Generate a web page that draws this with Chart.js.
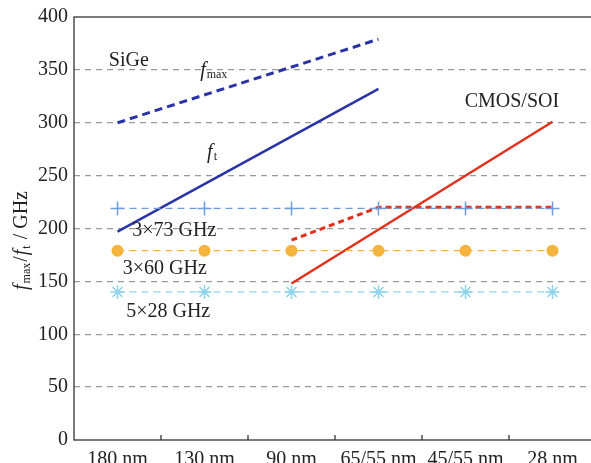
<!DOCTYPE html>
<html>
<head>
<meta charset="utf-8">
<script src="https://cdn.jsdelivr.net/npm/chart.js@4/dist/chart.umd.min.js"></script>
<style>
  html, body { margin: 0; padding: 0; background: #fff; overflow: hidden; }
  #wrap { width: 596px; height: 463px; position: relative; }
</style>
</head>
<body>
<div id="wrap"><canvas id="chart"></canvas></div>
<script>
// Process nodes on the x axis
const nodes = ['180 nm', '130 nm', '90 nm', '65/55 nm', '45/55 nm', '28 nm'];
const yTicks = [0, 50, 100, 150, 200, 250, 300, 350, 400];

// SiGe (blue) - only end points are given, the line joins them
const sigeFmax = [300, null, null, 379, null, null];
const sigeFt   = [197, null, null, 332, null, null];

// CMOS/SOI (red)
const cmosFmax = [null, null, 189, 220, 220, 220];
const cmosFt   = [null, null, 148, null, null, 301];

// band reference lines
const band73 = [219, 219, 219, 219, 219, 219];
const band60 = [179, 179, 179, 179, 179, 179];
const band28 = [140, 140, 140, 140, 140, 140];

const SERIF = '"Liberation Serif", "DejaVu Serif", serif';
const TEXT = '#222';

// free text labels (category index, value)
const labels = [
    { text: 'SiGe', x: -0.1, y: 359 },
    { text: 'CMOS/SOI', x: 3.99, y: 320 },
    { text: '3×73 GHz', x: 0.17, y: 198 },
    { text: '3×60 GHz', x: 0.06, y: 162 },
    { text: '5×28 GHz', x: 0.1, y: 121 }
];

function drawF(ctx, x, y, sub, size) {
    ctx.font = 'italic ' + size + 'px ' + SERIF;
    ctx.textAlign = 'left';
    ctx.fillText('f', x, y);
    const w = ctx.measureText('f').width;
    ctx.font = Math.round(size * 0.62) + 'px ' + SERIF;
    ctx.fillText(sub, x + w + 1, y + size * 0.22);
}

const overlay = {
    id: 'overlay',
    beforeDatasetsDraw(chart) {
        const { ctx, chartArea: a, scales } = chart;
        ctx.save();
        // box
        ctx.strokeStyle = '#333';
        ctx.lineWidth = 1.3;
        ctx.strokeRect(a.left, a.top, a.right - a.left, a.bottom - a.top);
        // small ticks between nodes, pointing up
        const xs = scales.x;
        for (let i = 0; i < nodes.length - 1; i++) {
            const px = (xs.getPixelForValue(i) + xs.getPixelForValue(i + 1)) / 2;
            ctx.beginPath();
            ctx.moveTo(px, a.bottom);
            ctx.lineTo(px, a.bottom - 5);
            ctx.stroke();
        }
        ctx.restore();
    },
    afterDraw(chart) {
        const { ctx, scales } = chart;
        const xs = scales.x, ys = scales.y;
        const cw = xs.getPixelForValue(1) - xs.getPixelForValue(0);
        ctx.save();
        ctx.fillStyle = TEXT;
        ctx.textBaseline = 'middle';
        ctx.textAlign = 'left';
        labels.forEach(l => {
            ctx.font = '20px ' + SERIF;
            ctx.fillText(l.text, xs.getPixelForValue(0) + l.x * cw, ys.getPixelForValue(l.y));
        });
        drawF(ctx, xs.getPixelForValue(0) + 0.95 * cw, ys.getPixelForValue(349), 'max', 20);
        drawF(ctx, xs.getPixelForValue(0) + 1.03 * cw, ys.getPixelForValue(272), 't', 20);

        // y axis title, rotated
        ctx.translate(22, 240);
        ctx.rotate(-Math.PI / 2);
        ctx.textBaseline = 'middle';
        const parts = [
            ['italic 20px ' + SERIF, 'f', 0],
            ['12px ' + SERIF, 'max', 5],
            ['20px ' + SERIF, '/', 0],
            ['italic 20px ' + SERIF, 'f', 0],
            ['12px ' + SERIF, 't', 5],
            ['20px ' + SERIF, ' / GHz', 0]
        ];
        let total = 0;
        parts.forEach(p => { ctx.font = p[0]; total += ctx.measureText(p[1]).width + 1; });
        let cx = -total / 2;
        parts.forEach(p => {
            ctx.font = p[0];
            ctx.fillText(p[1], cx, p[2]);
            cx += ctx.measureText(p[1]).width + 1;
        });
        ctx.restore();
    }
};

function line(data, color, width, dash, extra) {
    return Object.assign({
        data: data,
        borderColor: color,
        backgroundColor: color,
        borderWidth: width,
        borderDash: dash,
        pointRadius: 0,
        spanGaps: true,
        tension: 0
    }, extra || {});
}

new Chart(document.getElementById('chart'), {
    type: 'line',
    data: {
        labels: nodes,
        datasets: [
            line(band73, '#6f9bdc', 1.3, [7, 5], { pointStyle: 'cross', pointRadius: 7, pointBorderWidth: 1.5 }),
            line(band60, '#f5b43c', 1.3, [7, 5], { pointStyle: 'circle', pointRadius: 6, pointBorderWidth: 0 }),
            line(band28, '#8fd3ec', 1.3, [7, 5], { pointStyle: 'star', pointRadius: 7, pointBorderWidth: 1.5 }),
            line(sigeFmax, '#2b34a6', 3, [8, 5]),
            line(sigeFt, '#2b34a6', 2.5, []),
            line(cmosFmax, '#e3301d', 3, [6, 4]),
            line(cmosFt, '#e3301d', 2.5, [])
        ]
    },
    plugins: [overlay],
    options: {
        responsive: true,
        maintainAspectRatio: false,
        animation: false,
        layout: { autoPadding: false, padding: { top: 17, right: 0, left: 0, bottom: 0 } },
        plugins: { legend: { display: false }, tooltip: { enabled: false } },
        scales: {
            x: {
                offset: true,
                grid: { display: false },
                border: { display: false },
                ticks: { color: TEXT, font: { family: SERIF, size: 20 }, padding: 0, maxRotation: 0, autoSkip: false },
                afterFit(s) { s.height = 23; s.paddingLeft = 0; s.paddingRight = 0; }
            },
            y: {
                min: 0,
                max: 400,
                afterBuildTicks(s) { s.ticks = yTicks.map(v => ({ value: v })); },
                grid: {
                    color: c => (c.tick.value === 0 || c.tick.value === 400) ? 'rgba(0,0,0,0)' : '#9a9a9a',
                    lineWidth: 1.3,
                    drawTicks: false
                },
                border: { display: false, dash: [6, 5] },
                ticks: { color: TEXT, font: { family: SERIF, size: 20 }, padding: 6 },
                afterFit(s) { s.width = 74; s.paddingTop = 0; s.paddingBottom = 0; }
            }
        }
    }
});
</script>
</body>
</html>
